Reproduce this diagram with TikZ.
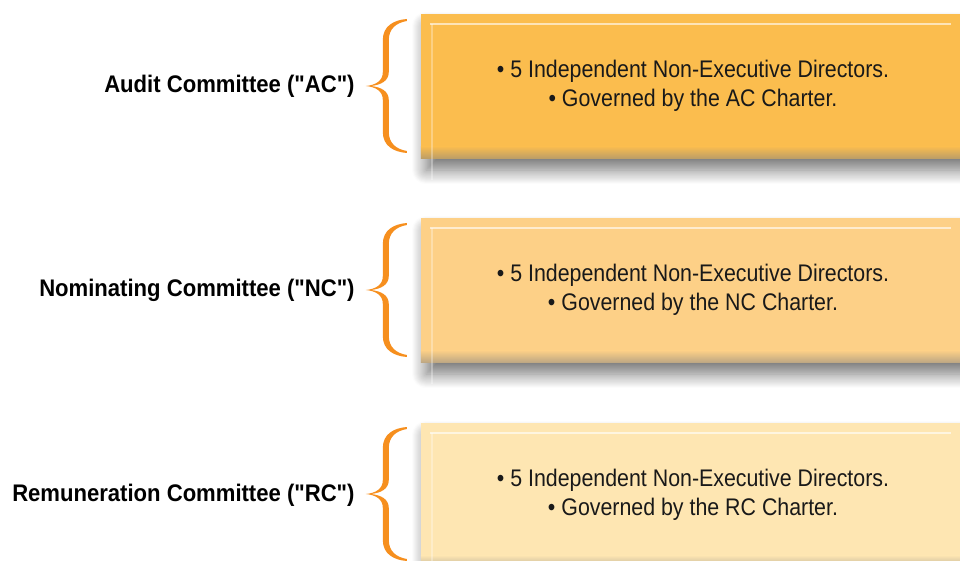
\documentclass[tikz,border=0pt]{standalone}
\usepackage{fontspec}
\setmainfont[FakeStretch=0.89, Ligatures=TeXOff, BoldFeatures={FakeStretch=0.92}]{Liberation Sans}
\usetikzlibrary{positioning, shadows.blur}

\definecolor{acfill}{RGB}{251,189,78}
\definecolor{ncfill}{RGB}{253,208,135}
\definecolor{rcfill}{RGB}{254,230,178}
\definecolor{braceorange}{RGB}{246,143,30}

\tikzset{
  cbox/.style={rectangle, minimum width=544pt, minimum height=144pt, inner sep=0pt,
    align=center, text=black!90, font=\fontsize{24}{29}\selectfont,
    blur shadow={shadow xshift=5pt, shadow yshift=-12pt, shadow blur radius=14pt,
      shadow blur steps=14, shadow opacity=55}},
  clabel/.style={anchor=east, inner sep=0pt, font=\bfseries\fontsize{24}{28}\selectfont},
  pics/cbrace/.style={code={
    \fill[braceorange] (41,-67) .. controls (28,-66) and (17,-60) .. (17,-46) -- (17,-14)
      .. controls (17,-5) and (10,-1) .. (0,0) .. controls (10,1) and (17,5) .. (17,14)
      -- (17,46) .. controls (17,60) and (28,66) .. (41,67) -- (41,65)
      .. controls (30,63) and (23,57) .. (23,46) -- (23,14)
      .. controls (23,5) and (15,1) .. (5,0) .. controls (15,-1) and (23,-5) .. (23,-14)
      -- (23,-46) .. controls (23,-57) and (30,-63) .. (41,-65) -- cycle;
  }}
}

\begin{document}
\begin{tikzpicture}[x=1pt,y=-1pt]
\useasboundingbox (0,0) rectangle (960,561);

% committee boxes
\node[cbox, fill=acfill] (ac) at (693,86) {• 5 Independent Non-Executive Directors.\\ • Governed by the AC Charter.};
\node[cbox, fill=ncfill] (nc) at (693,290) {• 5 Independent Non-Executive Directors.\\ • Governed by the NC Charter.};
\node[cbox, fill=rcfill] (rc) at (693,495) {• 5 Independent Non-Executive Directors.\\ • Governed by the RC Charter.};

% bevel: light top edge, dark bottom band
\foreach \n/\c in {ac/acfill, nc/ncfill, rc/rcfill} {
  \shade[top color=\c, bottom color=\c!50!gray] ([yshift=12pt]\n.south west) rectangle (\n.south east);
  \draw[white, opacity=.6, line width=2.5pt] ([shift={(9,10)}]\n.north west) -- ([shift={(-14,10)}]\n.north east);
  \draw[white, opacity=.3, line width=2pt] ([shift={(11,10)}]\n.north west) -- ([shift={(11,22)}]\n.south west);
}

% braces and names
\coordinate (acb) at ([xshift=-55pt]ac.west);
\coordinate (ncb) at ([xshift=-55pt]nc.west);
\coordinate (rcb) at ([xshift=-55pt]rc.west);
\pic at (acb) {cbrace};
\pic at (ncb) {cbrace};
\pic at ([yshift=1pt]rcb) {cbrace};
\node[clabel, left=11pt of acb] (acl) {Audit Committee ("AC")};
\node[clabel, left=11pt of ncb] (ncl) {Nominating Committee ("NC")};
\node[clabel, left=11pt of rcb] (rcl) {Remuneration Committee ("RC")};
\end{tikzpicture}
\end{document}
